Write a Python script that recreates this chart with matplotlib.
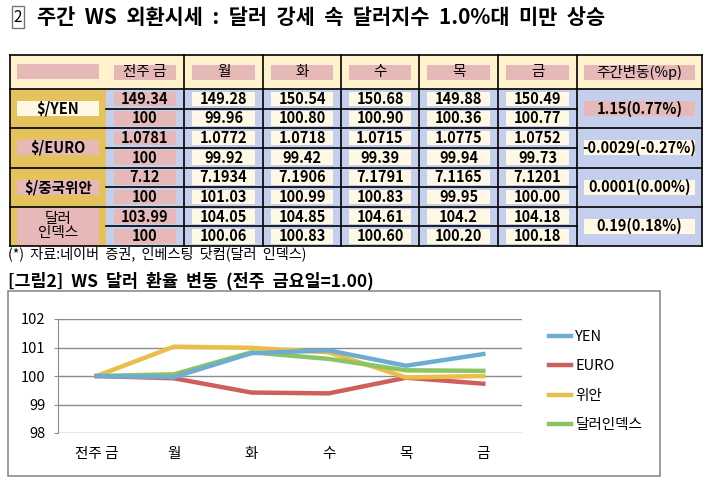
import matplotlib.pyplot as plt
from matplotlib.patches import Rectangle
from matplotlib.lines import Line2D

plt.rcParams['font.family'] = ['Noto Sans CJK KR', 'DejaVu Sans']

# 데이터
days = ['전주 금', '월', '화', '수', '목', '금']
pairs = ['$/YEN', '$/EURO', '$/중국위안', '달러\n인덱스']
rates = [
    ['149.34', '149.28', '150.54', '150.68', '149.88', '150.49'],
    ['1.0781', '1.0772', '1.0718', '1.0715', '1.0775', '1.0752'],
    ['7.12', '7.1934', '7.1906', '7.1791', '7.1165', '7.1201'],
    ['103.99', '104.05', '104.85', '104.61', '104.2', '104.18'],
]
index_vals = [
    ['100', '99.96', '100.80', '100.90', '100.36', '100.77'],
    ['100', '99.92', '99.42', '99.39', '99.94', '99.73'],
    ['100', '101.03', '100.99', '100.83', '99.95', '100.00'],
    ['100', '100.06', '100.83', '100.60', '100.20', '100.18'],
]
weekly_change = ['1.15(0.77%)', '-0.0029(-0.27%)', '0.0001(0.00%)', '0.19(0.18%)']

yen = [100, 99.96, 100.80, 100.90, 100.36, 100.77]
euro = [100, 99.92, 99.42, 99.39, 99.94, 99.73]
yuan = [100, 101.03, 100.99, 100.83, 99.95, 100.00]
dxy = [100, 100.06, 100.83, 100.60, 100.20, 100.18]

W, H = 717, 482
fig = plt.figure(figsize=(W / 100, H / 100), dpi=100)
bg = fig.add_axes([0, 0, 1, 1])
bg.set_xlim(0, W)
bg.set_ylim(H, 0)
bg.axis('off')

PINK = '#E6B9B8'
CREAM = '#FFF8E4'
GOLD = '#E4C35D'
LAV = '#C4CFEE'
HEAD = '#FFF2CC'

# 제목 (한글 문서처럼 띄어쓰기를 넓게)
bg.text(18, 17, '2', ha='center', va='center', fontsize=11,
        bbox=dict(boxstyle='square,pad=0.15', fc='white', ec='#777777', lw=1))
bg.text(37, 17, '주간  WS  외환시세  :  달러  강세  속  달러지수  1.0%대  미만  상승',
        ha='left', va='center', fontsize=15, fontweight='bold')

# 표
cx = [10, 106, 184, 263, 341, 419, 498, 577, 702]
top, hbot, bot = 55, 89, 246
rh = (bot - hbot) / 8
ry = [hbot + i * rh for i in range(9)]

bg.add_patch(Rectangle((cx[0], top), cx[-1] - cx[0], hbot - top, fc=HEAD, ec='none'))
bg.add_patch(Rectangle((cx[0], hbot), cx[1] - cx[0], bot - hbot, fc=GOLD, ec='none'))
bg.add_patch(Rectangle((cx[1], hbot), cx[-1] - cx[1], bot - hbot, fc=LAV, ec='none'))


def box(x0, x1, y0, y1, fc, dx=8, dy=2.5):
    bg.add_patch(Rectangle((x0 + dx, y0 + dy), x1 - x0 - 2 * dx, y1 - y0 - 2 * dy,
                           fc=fc, ec='none'))


# 헤더
box(cx[0], cx[1], 64 - 2.5, 79 + 2.5, PINK, dx=7)
for j, d in enumerate(days):
    box(cx[j + 1], cx[j + 2], 62, 82, PINK)
    bg.text((cx[j + 1] + cx[j + 2]) / 2, 72, d, ha='center', va='center', fontsize=10.5)
box(cx[7], cx[8], 62, 82, PINK, dx=7)
bg.text((cx[7] + cx[8]) / 2, 72, '주간변동(%p)', ha='center', va='center', fontsize=10.5)

for i, p in enumerate(pairs):
    y0, y1 = ry[2 * i], ry[2 * i + 2]
    ym = (y0 + y1) / 2
    if i == 3:
        box(cx[0], cx[1], y0, y1, PINK, dx=7, dy=1.5)
    else:
        box(cx[0], cx[1], ym - 10, ym + 10, CREAM if i == 0 else PINK, dx=7)
    bg.text((cx[0] + cx[1]) / 2, ym, p, ha='center', va='center', fontsize=10.5,
            fontweight='bold' if i < 3 else 'normal', linespacing=1.0)
    for k, row in enumerate([rates[i], index_vals[i]]):
        ya, yb = ry[2 * i + k], ry[2 * i + k + 1]
        for j, v in enumerate(row):
            box(cx[j + 1], cx[j + 2], ya, yb, PINK if j == 0 else CREAM)
            bg.text((cx[j + 1] + cx[j + 2]) / 2, (ya + yb) / 2, v, ha='center',
                    va='center', fontsize=10.5, fontweight='bold')
    box(cx[7], cx[8], ym - 10, ym + 10, PINK if i == 0 else CREAM, dx=7)
    bg.text((cx[7] + cx[8]) / 2, ym, weekly_change[i], ha='center', va='center',
            fontsize=10.5, fontweight='bold')

# 선
for x in cx:
    if x == cx[1]:
        continue
    bg.plot([x, x], [top, bot], color='black', lw=1.2)
bg.plot([cx[0], cx[-1]], [top, top], color='black', lw=1.2)
for k, y in enumerate(ry):
    if k % 2 == 0:
        bg.plot([cx[0], cx[-1]], [y, y], color='black', lw=1.2)
    else:
        bg.plot([cx[1], cx[7]], [y, y], color='black', lw=1.2)

bg.text(8, 254, '(*)  자료:네이버  증권,  인베스팅  닷컴(달러  인덱스)', ha='left', va='center',
        fontsize=10.2)
bg.text(8, 281, '[그림2]  WS  달러  환율  변동  (전주  금요일=1.00)', ha='left', va='center',
        fontsize=12.5, fontweight='bold')

# 차트
bg.add_patch(Rectangle((8, 291), 652, 185, fc='white', ec='#8C8C8C', lw=1.2))

px0, px1, py0, py1 = 58, 522, 319, 433
ax = fig.add_axes([px0 / W, (H - py1) / H, (px1 - px0) / W, (py1 - py0) / H])
ax.patch.set_alpha(0)
x = range(len(days))
ax.plot(x, euro, color='#CF5F5C', lw=3.2, zorder=2)
ax.plot(x, yuan, color='#EBBE4A', lw=3.2, zorder=3)
ax.plot(x, dxy, color='#8CC461', lw=3.2, zorder=4)
ax.plot(x, yen, color='#6EADD2', lw=3.2, zorder=5)
ax.set_xlim(-0.5, 5.5)
ax.set_ylim(98, 102)
ax.set_yticks([98, 99, 100, 101, 102])
ax.set_xticks(list(x))
ax.set_xticklabels(days)
ax.grid(axis='y', color='#8C8C8C', lw=1)
for s in ['top', 'right', 'bottom']:
    ax.spines[s].set_visible(False)
ax.spines['left'].set_color('#8C8C8C')
ax.tick_params(axis='y', length=3, color='#8C8C8C', labelsize=10.5, pad=6)
ax.tick_params(axis='x', length=0, labelsize=10.5, pad=10)

handles = [Line2D([], [], color=c, lw=3.2) for c in ['#6EADD2', '#CF5F5C', '#EBBE4A', '#8CC461']]
fig.legend(handles, ['YEN', 'EURO', '위안', '달러인덱스'], loc='center left',
           bbox_to_anchor=(536 / W, (H - 381) / H), frameon=False, fontsize=10.5,
           handlelength=1.5, handletextpad=0.3, labelspacing=1.05)

fig.savefig('out.png', dpi=100)
